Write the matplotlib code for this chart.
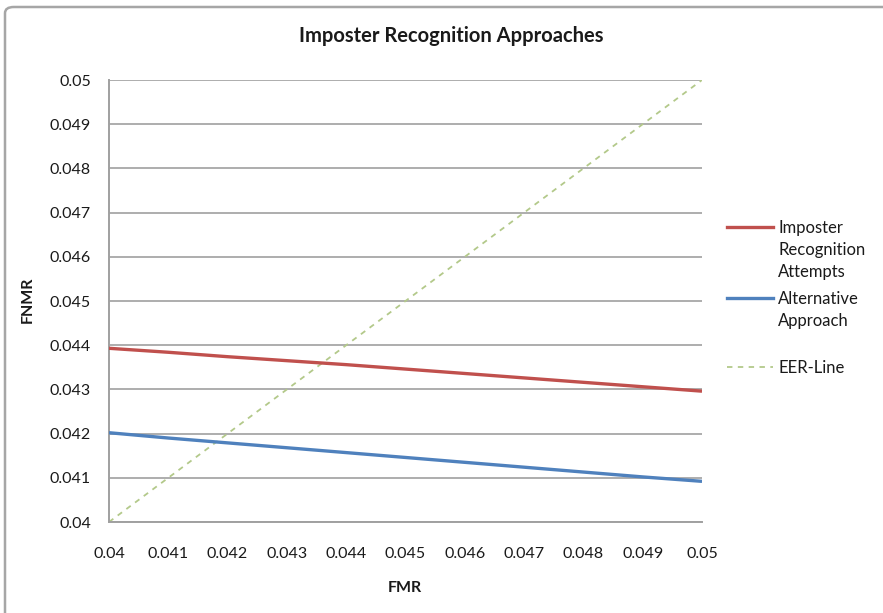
import matplotlib
matplotlib.use("Agg")
import matplotlib.pyplot as plt
from matplotlib.lines import Line2D
from matplotlib.patches import FancyBboxPatch

plt.rcParams["font.family"] = ["Lato", "DejaVu Sans"]

# FMR sample points and the FNMR of each approach
fmr = [0.040, 0.041, 0.042, 0.043, 0.044, 0.045, 0.046, 0.047, 0.048, 0.049, 0.050]
imposter_fnmr = [0.04393, 0.04384, 0.04374, 0.04365, 0.04356, 0.04346,
                 0.04336, 0.04326, 0.04316, 0.04306, 0.04296]
alternative_fnmr = [0.04202, 0.04190, 0.04179, 0.04168, 0.04157, 0.04146,
                    0.04135, 0.04124, 0.04113, 0.04102, 0.04092]
eer_line = [0.040, 0.050]

series_labels = ["Imposter\nRecognition\nAttempts", "Alternative\nApproach", "EER-Line"]
x_ticks = [0.040, 0.041, 0.042, 0.043, 0.044, 0.045, 0.046, 0.047, 0.048, 0.049, 0.050]
x_tick_labels = ["0.04", "0.041", "0.042", "0.043", "0.044", "0.045",
                 "0.046", "0.047", "0.048", "0.049", "0.05"]
y_ticks = x_ticks
y_tick_labels = x_tick_labels

red = "#c0504d"
blue = "#4f81bd"
green = "#b3c98a"
grid_gray = "#a0a0a0"
text_col = "#1a1a1a"

fig = plt.figure(figsize=(8.83, 6.13), dpi=100)
ax = fig.add_axes([109 / 883, 1 - 522 / 613, 593 / 883, 442 / 613])

ax.plot(fmr, imposter_fnmr, color=red, lw=2.4, solid_capstyle="butt", zorder=3)
ax.plot(fmr, alternative_fnmr, color=blue, lw=2.4, solid_capstyle="butt", zorder=3)
ax.plot(eer_line, eer_line, color=green, lw=1.3, dashes=(3, 3), zorder=2)

ax.set_xlim(0.04, 0.05)
ax.set_ylim(0.04, 0.05)
ax.set_xticks(x_ticks)
ax.set_xticklabels(x_tick_labels)
ax.set_yticks(y_ticks)
ax.set_yticklabels(y_tick_labels)
ax.tick_params(axis="both", length=0, labelsize=11.5, labelcolor=text_col)
ax.tick_params(axis="x", pad=18)
ax.tick_params(axis="y", pad=13)

ax.grid(axis="y", color=grid_gray, lw=1.2)
ax.set_axisbelow(True)
for side in ("top", "right"):
    ax.spines[side].set_visible(False)
for side in ("left", "bottom"):
    ax.spines[side].set_color(grid_gray)
    ax.spines[side].set_linewidth(1.4)

fig.text(451 / 883, 1 - 36 / 613, "Imposter Recognition Approaches", ha="center", va="center",
         fontsize=14.5, fontweight="bold", color=text_col)
fig.text(405 / 883, 1 - 588 / 613, "FMR", ha="center", va="center",
         fontsize=11.5, fontweight="bold", color=text_col)
fig.text(28 / 883, 1 - 300 / 613, "FNMR", ha="center", va="center", rotation=90,
         fontsize=11.5, fontweight="bold", color=text_col)

# legend drawn by hand so each key sits beside the first text line
legend_rows = [(227, red, "-", series_labels[0]),
               (298, blue, "-", series_labels[1]),
               (367, green, "--", series_labels[2])]
for y_px, col, ls, label in legend_rows:
    yf = 1 - y_px / 613
    if ls == "-":
        key = Line2D([727 / 883, 773 / 883], [yf, yf], color=col, lw=2.4, transform=fig.transFigure)
    else:
        key = Line2D([727 / 883, 773 / 883], [yf, yf], color=col, lw=1.3, dashes=(3, 3),
                     transform=fig.transFigure)
    fig.add_artist(key)
    fig.text(778 / 883, yf + 7 / 613, label, ha="left", va="top", fontsize=12,
             color=text_col, linespacing=1.45)

# chart frame, only its top and left edges fall inside the image
frame = FancyBboxPatch((5 / 883, -1.0), 2.0, 2.0 - 7 / 613,
                       boxstyle="round,pad=0,rounding_size=0.01",
                       transform=fig.transFigure, fill=False, ec="#a6a6a6", lw=1.8)
fig.add_artist(frame)

fig.savefig("out.png", dpi=100, facecolor="white")
